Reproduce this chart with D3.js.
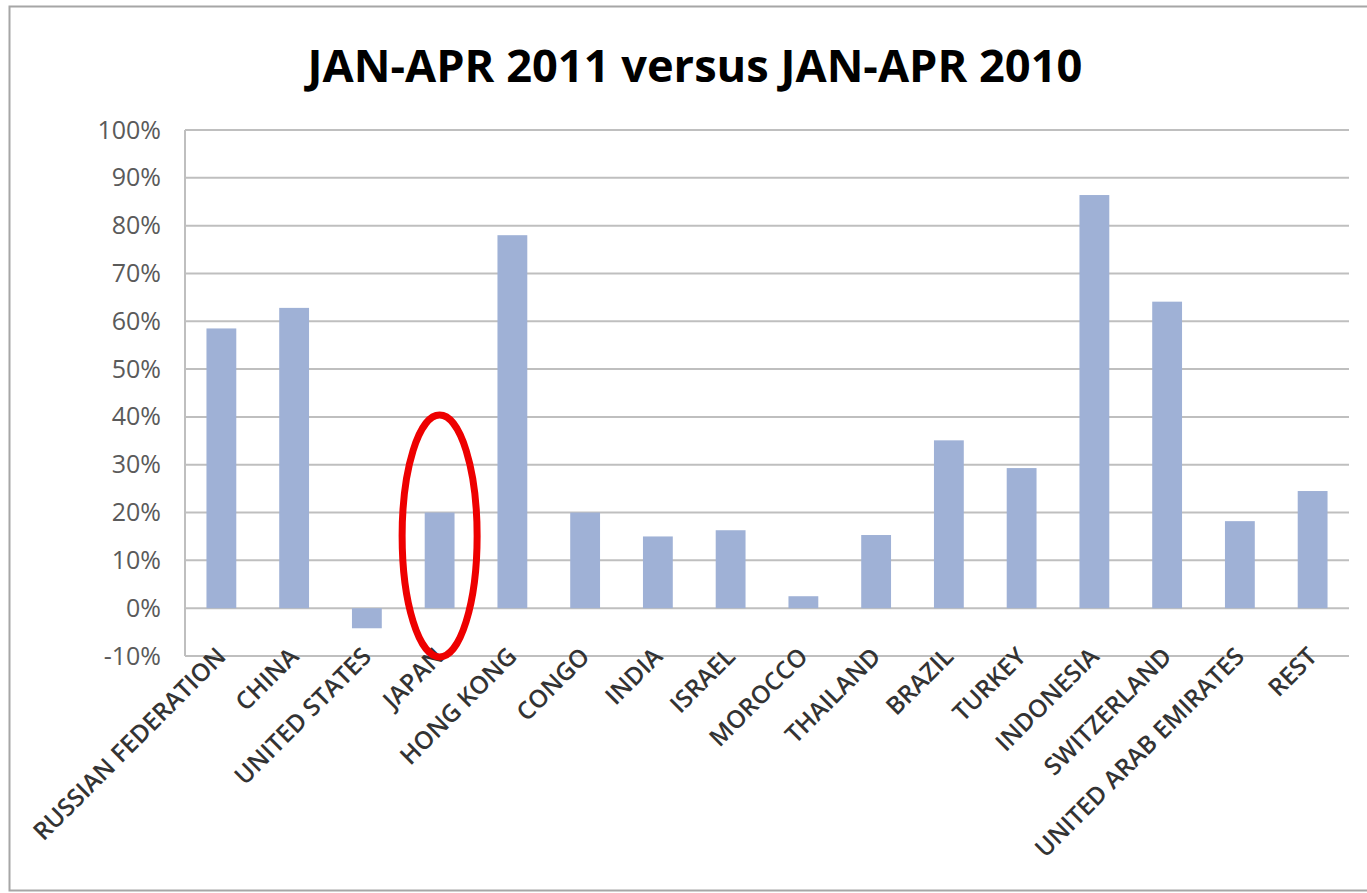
<!DOCTYPE html>
<html><head><meta charset="utf-8">
<script src="https://cdn.jsdelivr.net/npm/d3@7"></script>
<style>body{margin:0;background:#fff}svg{display:block}</style>
</head><body><svg id="c" width="1367" height="893"></svg>
<script>
const categories = ["RUSSIAN FEDERATION","CHINA","UNITED STATES","JAPAN","HONG KONG","CONGO","INDIA","ISRAEL","MOROCCO","THAILAND","BRAZIL","TURKEY","INDONESIA","SWITZERLAND","UNITED ARAB EMIRATES","REST"];
const values = [58.5, 62.8, -4.2, 20.0, 78.0, 20.0, 15.0, 16.3, 2.5, 15.3, 35.1, 29.3, 86.4, 64.1, 18.2, 24.5];
const yTicks = [-10,0,10,20,30,40,50,60,70,80,90,100];
const title = "JAN-APR 2011 versus JAN-APR 2010";
const highlight = "JAPAN";

const svg = d3.select("#c");
const font = "'Open Sans', 'Liberation Sans', sans-serif";
svg.append("rect").attr("x",9.5).attr("y",6.5).attr("width",1360).attr("height",884)
  .attr("fill","#fff").attr("stroke","#a6a6a6").attr("stroke-width",2);

const m = {l:185, r:1349, t:130, b:656};
const x = d3.scaleBand().domain(categories).range([m.l,m.r]).paddingInner(0.59).paddingOuter(0.295);
const y = d3.scaleLinear().domain([-10,100]).range([m.b,m.t]);

// gridlines
svg.append("g").selectAll("line").data(yTicks).join("line")
  .attr("x1",m.l).attr("x2",m.r).attr("y1",d=>y(d)).attr("y2",d=>y(d))
  .attr("stroke","#bfbfbf").attr("stroke-width",2);
svg.append("line").attr("x1",m.l).attr("x2",m.l).attr("y1",m.t).attr("y2",m.b)
  .attr("stroke","#bfbfbf").attr("stroke-width",2);

// bars
svg.append("g").selectAll("rect").data(values).join("rect")
  .attr("x",(d,i)=>x(categories[i])).attr("width",x.bandwidth())
  .attr("y",d=>y(Math.max(0,d))).attr("height",d=>Math.abs(y(d)-y(0)))
  .attr("fill","#9fb1d6");

// y axis labels
const yAxis = d3.axisLeft(y).tickValues(yTicks).tickFormat(d=>d+"%").tickSize(0).tickPadding(0);
const ya = svg.append("g").attr("transform",`translate(${m.l-24},0)`).call(yAxis);
ya.select(".domain").remove();
ya.selectAll("text").attr("font-family",font).attr("font-size",25).attr("fill","#5a5a5a");

// x labels
const xAxis = d3.axisBottom(x).tickSize(0).tickPadding(0);
const xa = svg.append("g").attr("transform",`translate(0,${m.b+4})`).call(xAxis);
xa.select(".domain").remove();
xa.selectAll("text").attr("font-family",font).attr("font-size",24.5).attr("font-weight",600).attr("fill","#333")
  .attr("text-anchor","end").attr("y",0).attr("dy",0)
  .attr("transform","translate(6,-2) rotate(-45)");

// title
const t = svg.append("text").attr("x",695).attr("y",82).attr("text-anchor","middle")
  .attr("font-family",font).attr("font-weight","bold").attr("font-size",40).attr("fill","#000").text(title);
const w = t.node().getComputedTextLength();
t.attr("font-size",40*775/w);

// red ellipse
svg.append("ellipse").attr("cx",x(highlight)+x.bandwidth()/2).attr("cy",536)
  .attr("rx",37.5).attr("ry",121).attr("fill","none").attr("stroke","#ee0000").attr("stroke-width",7);
</script></body></html>
